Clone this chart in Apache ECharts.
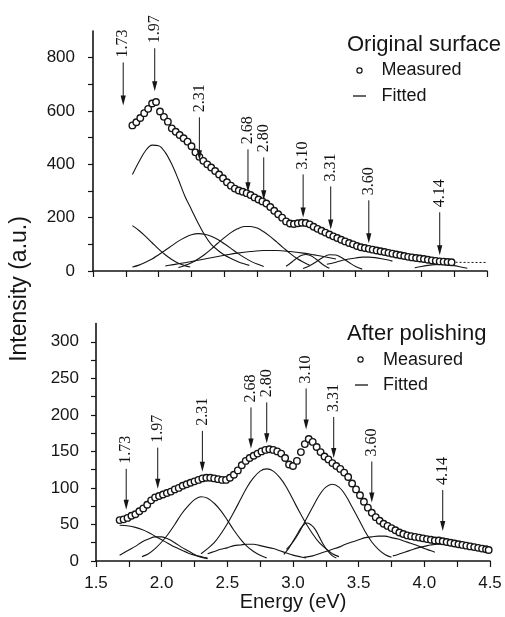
<!DOCTYPE html>
<html>
<head>
<meta charset="utf-8">
<script src="https://cdn.jsdelivr.net/npm/echarts/dist/echarts.min.js"></script>
<style>
  html, body { margin: 0; padding: 0; background: #fff; }
  #chart { width: 505px; height: 617px; }
</style>
</head>
<body>
<div id="chart"></div>
<script>
// ---- Original surface: measured spectrum [energy eV, intensity] ----
const origMeasured = [
  [1.80,546],[1.83,558],[1.86,574],[1.89,592],[1.92,608],[1.95,628],[1.98,634],[2.01,598],
  [2.04,578],[2.07,560],[2.10,535],[2.13,522],[2.16,510],[2.19,498],[2.22,485],[2.25,468],
  [2.28,445],[2.31,428],[2.34,413],[2.37,400],[2.40,388],[2.43,375],[2.46,362],[2.49,348],
  [2.52,333],[2.55,320],[2.58,309],[2.61,302],[2.64,297],[2.67,292],[2.70,285],[2.73,276],
  [2.76,268],[2.79,261],[2.82,253],[2.85,240],[2.88,226],[2.91,213],[2.94,200],[2.97,186],
  [3.00,178],[3.03,176],[3.06,179],[3.09,181],[3.12,180],[3.15,175],[3.18,166],[3.21,158],
  [3.24,151],[3.27,144],[3.30,137],[3.33,130],[3.36,124],[3.39,117],[3.42,111],[3.45,105],
  [3.48,100],[3.51,94],[3.54,89],[3.57,86],[3.60,83],[3.63,80],[3.66,77],[3.69,74],
  [3.72,71],[3.75,68],[3.78,65],[3.81,62],[3.84,59],[3.87,56],[3.90,53],[3.93,51],
  [3.96,49],[3.99,47],[4.02,45],[4.05,42],[4.08,40],[4.11,38],[4.14,36],[4.17,35],
  [4.20,34],[4.23,33]
];
const origTail = [[4.23,33],[4.36,32],[4.50,32]];

// fitted components, original surface
const origFit173 = [[1.80,170],[1.85,152],[1.90,130],[1.95,106],[2.00,82],[2.05,61],[2.10,43],[2.15,29],[2.20,20],[2.24,15]];
const origFit197 = [[1.80,362],[1.85,410],[1.90,451],[1.95,472],[2.00,470],[2.05,445],[2.10,400],[2.15,343],[2.20,280],
  [2.25,230],[2.30,180],[2.35,135],[2.40,100],[2.45,78],[2.50,60],[2.55,47],[2.60,36],[2.65,27],[2.69,21]];
const origFit231 = [[1.80,15],[1.85,22],[1.90,33],[1.95,45],[2.00,61],[2.05,78],[2.10,95],[2.15,112],[2.20,126],
  [2.25,136],[2.30,140],[2.35,138],[2.40,130],[2.45,118],[2.50,102],[2.55,85],[2.60,67],[2.65,51],[2.70,37],[2.75,26],[2.80,17]];
const origFit268 = [[2.15,13],[2.20,21],[2.25,31],[2.30,45],[2.35,62],[2.40,82],[2.45,104],[2.50,125],[2.55,144],
  [2.60,158],[2.65,167],[2.70,167],[2.75,161],[2.80,147],[2.85,129],[2.90,108],[2.95,87],[3.00,66],[3.05,48],[3.10,34],[3.15,22]];
const origFit280 = [[2.05,19],[2.10,23],[2.20,31],[2.30,40],[2.40,50],[2.50,59],[2.60,67],[2.70,73],[2.80,77],
  [2.90,77],[3.00,73],[3.10,67],[3.20,59],[3.30,50],[3.35,45]];
const origFit310 = [[2.97,18],[3.00,28],[3.03,40],[3.06,51],[3.09,59],[3.12,62],[3.15,59],[3.18,51],[3.21,40],[3.24,28],[3.27,18],[3.30,10]];
const origFit331 = [[3.10,9],[3.15,20],[3.20,35],[3.25,51],[3.30,61],[3.35,60],[3.40,48],[3.45,32],[3.50,17],[3.55,7]];
const origFit360 = [[3.28,25],[3.35,33],[3.40,40],[3.45,45],[3.50,49],[3.55,52],[3.60,52],[3.65,50],[3.70,46],[3.75,41],[3.78,37]];
const origFit414 = [[3.95,12],[4.00,17],[4.05,21],[4.10,24],[4.15,25],[4.20,23],[4.25,20],[4.30,15],[4.35,10]];

// ---- After polishing: measured spectrum ----
const polMeasured = [
  [1.68,56],[1.71,57],[1.74,59],[1.77,62],[1.80,64],[1.83,68],[1.86,72],[1.89,77],[1.92,83],[1.95,87],
  [1.98,89],[2.01,91],[2.04,93],[2.07,95],[2.10,98],[2.13,100],[2.16,103],[2.19,105],[2.22,107],[2.25,109],
  [2.28,111],[2.31,113],[2.34,114],[2.37,114],[2.40,113],[2.43,112],[2.46,111],[2.49,111],[2.52,114],[2.55,118],
  [2.58,124],[2.61,131],[2.64,137],[2.67,141],[2.70,144],[2.73,147],[2.76,150],[2.79,152],[2.82,153],[2.85,152],
  [2.88,150],[2.91,147],[2.94,141],[2.97,132],[3.00,130],[3.03,137],[3.06,149],[3.09,160],[3.12,167],[3.15,163],
  [3.18,156],[3.21,149],[3.24,143],[3.27,139],[3.30,134],[3.33,130],[3.36,126],[3.39,121],[3.42,115],[3.45,106],
  [3.48,98],[3.51,90],[3.54,81],[3.57,73],[3.60,66],[3.63,60],[3.66,55],[3.69,51],[3.72,48],[3.75,45],
  [3.78,42],[3.81,39],[3.84,37],[3.87,35],[3.90,34],[3.93,33],[3.96,32],[3.99,31],[4.02,30],[4.05,29],
  [4.08,28],[4.11,28],[4.14,27],[4.17,26],[4.20,25],[4.23,24],[4.26,23],[4.29,22],[4.32,21],[4.35,20],
  [4.38,19],[4.41,18],[4.44,17],[4.47,16],[4.49,15]
];

// fitted components, after polishing
const polFit173 = [[1.68,49],[1.75,48],[1.80,46],[1.85,43],[1.90,39],[1.95,34],[2.00,29],[2.05,24],[2.10,19],
  [2.15,15],[2.20,11],[2.25,8],[2.30,6],[2.35,4]];
const polFit197 = [[1.68,8],[1.75,15],[1.80,20],[1.85,26],[1.90,30],[1.95,33],[2.00,33],[2.05,30],[2.10,25],
  [2.15,19],[2.20,14],[2.25,9],[2.30,5],[2.35,3]];
const polFit231 = [[1.85,6],[1.90,10],[1.95,17],[2.00,26],[2.05,37],[2.10,50],[2.15,64],[2.20,75],[2.25,84],[2.30,88],
  [2.35,86],[2.40,79],[2.45,69],[2.50,56],[2.55,42],[2.60,30],[2.65,20],[2.70,13],[2.75,8],[2.80,4]];
const polFit268 = [[2.35,10],[2.40,13],[2.45,16],[2.50,18],[2.55,21],[2.60,22],[2.65,23],[2.70,23],[2.75,21],
  [2.80,19],[2.85,17],[2.90,14],[2.95,11],[3.00,8],[3.05,6],[3.10,4]];
const polFit280 = [[2.30,10],[2.35,17],[2.40,25],[2.45,37],[2.50,51],[2.55,67],[2.60,84],[2.65,101],[2.70,114],
  [2.75,123],[2.80,126],[2.85,123],[2.90,114],[2.95,101],[3.00,84],[3.05,67],[3.10,51],[3.15,37],[3.20,25],
  [3.25,17],[3.30,10],[3.35,6]];
const polFit310 = [[2.93,9],[2.97,18],[3.00,27],[3.03,36],[3.06,45],[3.09,51],[3.11,52],[3.14,49],[3.17,43],
  [3.20,33],[3.23,23],[3.26,15],[3.30,7],[3.33,4]];
const polFit331 = [[2.95,16],[3.00,26],[3.05,40],[3.10,57],[3.15,74],[3.20,90],[3.25,101],[3.30,105],[3.35,101],
  [3.40,90],[3.45,74],[3.50,57],[3.55,40],[3.60,26],[3.65,16],[3.70,9],[3.75,5]];
const polFit360 = [[3.08,5],[3.15,7],[3.20,10],[3.25,13],[3.30,16],[3.35,19],[3.40,23],[3.45,26],[3.50,29],
  [3.55,32],[3.60,33],[3.65,34],[3.70,34],[3.75,32],[3.80,30],[3.85,27],[3.90,24],[3.95,21],[4.00,17],[4.05,14],[4.08,12]];
const polFit414 = [[3.76,7],[3.80,9],[3.85,12],[3.90,15],[3.95,18],[4.00,20],[4.05,22],[4.10,23],[4.15,23],
  [4.20,22],[4.25,21],[4.30,19],[4.35,17],[4.40,15]];

// ---- peak assignments (eV) and where each arrow points ----
const peakEnergies = [1.73, 1.97, 2.31, 2.68, 2.80, 3.10, 3.31, 3.60, 4.14];
const origArrowTips = [621, 674, 415, 295, 265, 201, 156, 104, 59];
const polArrowTips  = [70, 99, 122, 154, 161, 180, 141, 80, 41];

const origFits = [origFit173, origFit197, origFit231, origFit268, origFit280, origFit310, origFit331, origFit360, origFit414];
const polFits  = [polFit173, polFit197, polFit231, polFit268, polFit280, polFit310, polFit331, polFit360, polFit414];

const INK = '#151515';
const SANS = '"Liberation Sans", Arial, sans-serif';
const SERIF = '"Liberation Serif", "Times New Roman", serif';

function isMultiple(v, step) {
  const r = v / step;
  return Math.abs(r - Math.round(r)) < 1e-6;
}

// vertical arrow with rotated peak label above it
function arrowRenderer(len) {
  return function (params, api) {
    const e = api.value(0);
    const p = api.coord([e, api.value(1)]);
    const top = p[1] - len;
    return {
      type: 'group',
      children: [
        { type: 'line', shape: { x1: p[0], y1: top, x2: p[0], y2: p[1] - 8 },
          style: { stroke: INK, lineWidth: 1 } },
        { type: 'polygon', shape: { points: [[p[0] - 2.6, p[1] - 10], [p[0] + 2.6, p[1] - 10], [p[0], p[1]]] },
          style: { fill: INK } },
        { type: 'text', x: p[0], y: top - 5, rotation: Math.PI / 2,
          style: { text: e.toFixed(2), font: '16px ' + SERIF, fill: INK,
                   align: 'left', verticalAlign: 'middle', textAlign: 'left', textVerticalAlign: 'middle' } }
      ]
    };
  };
}

function xAxisFor(gridIndex, showLabels) {
  return {
    type: 'value', gridIndex: gridIndex, min: 1.5, max: 4.5, interval: 0.25,
    axisLine: { onZero: false, lineStyle: { color: INK, width: 1.6 } },
    axisTick: { inside: false, length: 6, lineStyle: { color: INK, width: 1.2 } },
    splitLine: { show: false },
    axisLabel: {
      show: showLabels, margin: 14, color: INK, fontSize: 17, fontFamily: SANS,
      formatter: v => isMultiple(v, 0.5) ? v.toFixed(1) : ''
    },
    name: showLabels ? 'Energy (eV)' : '', nameLocation: 'middle', nameGap: 26,
    nameTextStyle: { color: INK, fontSize: 20, fontFamily: SANS }
  };
}

function yAxisFor(gridIndex, max, step, labelStep, margin) {
  return {
    type: 'value', gridIndex: gridIndex, min: 0, max: max, interval: step,
    axisLine: { show: true, lineStyle: { color: INK, width: 1.6 } },
    axisTick: { show: true, inside: false, length: 5, lineStyle: { color: INK, width: 1.2 } },
    splitLine: { show: false },
    axisLabel: {
      margin: margin, color: INK, fontSize: 17, fontFamily: SANS, showMaxLabel: false,
      formatter: v => isMultiple(v, labelStep) ? String(v) : ''
    }
  };
}

function panelSeries(axisIndex, measured, fits, tips, arrowLen) {
  const out = [];
  fits.forEach(f => out.push({
    type: 'line', xAxisIndex: axisIndex, yAxisIndex: axisIndex, data: f,
    smooth: 0.35, symbol: 'none', lineStyle: { color: INK, width: 1.1 }, z: 2
  }));
  out.push({
    type: 'scatter', xAxisIndex: axisIndex, yAxisIndex: axisIndex, data: measured,
    symbol: 'circle', symbolSize: 6.5,
    itemStyle: { color: '#fff', borderColor: INK, borderWidth: 1.4, opacity: 1 }, z: 3
  });
  out.push({
    type: 'custom', xAxisIndex: axisIndex, yAxisIndex: axisIndex,
    data: peakEnergies.map((e, i) => [e, tips[i]]),
    renderItem: arrowRenderer(arrowLen), clip: false, z: 4
  });
  return out;
}

const series = []
  .concat(panelSeries(0, origMeasured, origFits, origArrowTips, 43))
  .concat([{
    type: 'line', xAxisIndex: 0, yAxisIndex: 0, data: origTail, symbol: 'none',
    lineStyle: { color: INK, width: 1, type: [2, 2] }, z: 2
  }])
  .concat(panelSeries(1, polMeasured, polFits, polArrowTips, 41));

const chart = echarts.init(document.getElementById('chart'), null, { renderer: 'canvas' });
chart.setOption({
  animation: false,
  backgroundColor: '#fff',
  textStyle: { fontFamily: SANS },
  grid: [
    { left: 93, top: 31, width: 394, height: 240 },
    { left: 96, top: 323.5, width: 394, height: 237.5 }
  ],
  xAxis: [xAxisFor(0, false), xAxisFor(1, true)],
  yAxis: [yAxisFor(0, 900, 100, 200, 18), yAxisFor(1, 325, 25, 50, 17)],
  series: series,
  graphic: [
    { type: 'text', x: 20, y: 289, rotation: Math.PI / 2,
      style: { text: 'Intensity (a.u.)', font: '23px ' + SANS, fill: INK,
               align: 'center', verticalAlign: 'middle', textAlign: 'center', textVerticalAlign: 'middle' } },

    { type: 'text', x: 347, y: 45,
      style: { text: 'Original surface', font: '22px ' + SANS, fill: INK,
               align: 'left', verticalAlign: 'middle', textAlign: 'left', textVerticalAlign: 'middle' } },
    { type: 'circle', shape: { cx: 359.5, cy: 70.5, r: 2.6 }, style: { fill: '#fff', stroke: INK, lineWidth: 1.2 } },
    { type: 'text', x: 381.5, y: 70.5,
      style: { text: 'Measured', font: '18px ' + SANS, fill: INK,
               align: 'left', verticalAlign: 'middle', textAlign: 'left', textVerticalAlign: 'middle' } },
    { type: 'line', shape: { x1: 353, y1: 96, x2: 366, y2: 96 }, style: { stroke: INK, lineWidth: 1.3 } },
    { type: 'text', x: 381.5, y: 96.5,
      style: { text: 'Fitted', font: '18px ' + SANS, fill: INK,
               align: 'left', verticalAlign: 'middle', textAlign: 'left', textVerticalAlign: 'middle' } },

    { type: 'text', x: 347, y: 334,
      style: { text: 'After polishing', font: '22px ' + SANS, fill: INK,
               align: 'left', verticalAlign: 'middle', textAlign: 'left', textVerticalAlign: 'middle' } },
    { type: 'circle', shape: { cx: 360.5, cy: 359.5, r: 2.6 }, style: { fill: '#fff', stroke: INK, lineWidth: 1.2 } },
    { type: 'text', x: 383, y: 360,
      style: { text: 'Measured', font: '18px ' + SANS, fill: INK,
               align: 'left', verticalAlign: 'middle', textAlign: 'left', textVerticalAlign: 'middle' } },
    { type: 'line', shape: { x1: 355, y1: 385, x2: 368, y2: 385 }, style: { stroke: INK, lineWidth: 1.3 } },
    { type: 'text', x: 383, y: 385,
      style: { text: 'Fitted', font: '18px ' + SANS, fill: INK,
               align: 'left', verticalAlign: 'middle', textAlign: 'left', textVerticalAlign: 'middle' } }
  ]
});
</script>
</body>
</html>
